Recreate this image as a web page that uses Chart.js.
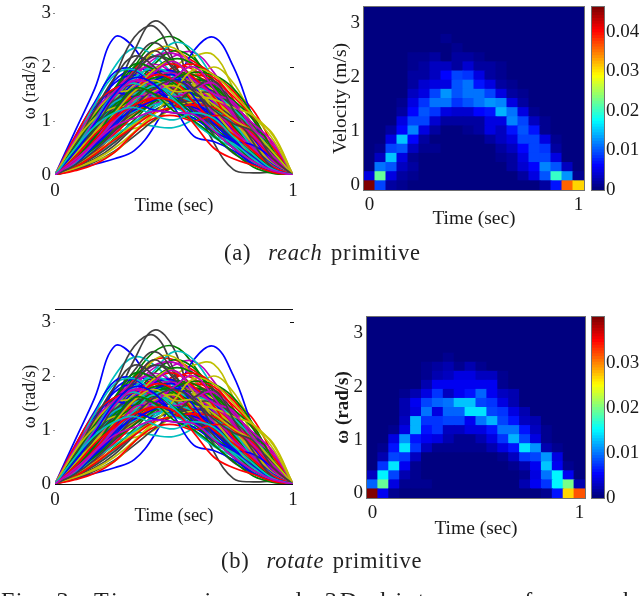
<!DOCTYPE html>
<html><head><meta charset="utf-8">
<script src="https://cdn.jsdelivr.net/npm/chart.js@4"></script>
<style>
html,body{margin:0;padding:0;background:#fff;width:640px;height:596px;overflow:hidden}
canvas{position:absolute}
.cap{position:absolute;font-family:"Liberation Serif",serif;color:#222;white-space:pre;line-height:1}
#wrap{position:absolute;left:0;top:0;width:640px;height:596px;overflow:hidden;filter:blur(0.45px)}
</style></head><body><div id="wrap">
<canvas id="lineA" style="left:0;top:0;width:310px;height:225px"></canvas>
<canvas id="heatA" style="left:320px;top:0;width:270px;height:235px"></canvas>
<canvas id="barA" style="left:586px;top:0;width:54px;height:235px"></canvas>
<canvas id="lineB" style="left:0;top:300px;width:310px;height:235px"></canvas>
<canvas id="heatB" style="left:320px;top:310px;width:270px;height:235px"></canvas>
<canvas id="barB" style="left:586px;top:310px;width:54px;height:235px"></canvas>
<div class="cap" style="left:224px;top:242px;font-size:22.5px;letter-spacing:.8px;word-spacing:2px">(a)  <i>reach</i> primitive</div>
<div class="cap" style="left:221px;top:550px;font-size:22.5px;letter-spacing:.8px;word-spacing:2px">(b)  <i>rotate</i> primitive</div>
<div class="cap" style="left:1px;top:588px;font-size:24px;letter-spacing:1.5px;word-spacing:4px">Fig. 3:</div>
<div class="cap" style="left:94px;top:588px;font-size:24px;letter-spacing:3.1px;word-spacing:11px">Time-series and 3D histogram for each</div>
</div>
<script>
const times=[0,.083,.167,.25,.333,.417,.5,.583,.667,.75,.833,.917,1];
const lineColors=['#0000ff','#008000','#ff0000','#00bfbf','#bf00bf','#bfbf00','#404040'];
const curves=[
[0,.8,1.6,2.55,2.35,1.7,1.3,1.12,1.05,.8,.5,.2,0],
[0,.35,.85,1.4,2.0,2.45,2.55,2.2,1.6,1.0,.5,.15,0],
[0,.3,.8,1.35,1.95,2.3,2.3,2.1,1.85,1.55,1.2,.55,0],
[0,.6,1.3,2.0,2.35,2.2,1.85,1.5,1.1,.75,.35,.1,0],
[0,.25,.65,1.1,1.6,1.95,2.2,2.27,1.9,1.3,.7,.25,0],
[0,.3,.6,.95,1.3,1.7,2.0,2.2,2.22,1.6,.9,.35,0],
[0,.3,.8,1.5,2.3,2.85,2.5,1.4,.6,.1,.04,.05,0],
[0,.1,.2,.3,.45,.9,1.6,2.3,2.55,2.0,1.05,.3,0],
[0,.45,1.0,1.55,2.0,2.2,2.1,1.8,1.4,1.0,.6,.2,0],
[0,.5,1.1,1.6,1.85,1.95,1.9,1.85,1.65,1.3,.85,.4,0],
[0,.32,.6,.85,.96,.9,.88,1.05,1.5,1.2,.7,.2,0],
[0,.4,.9,1.4,1.8,2.15,2.25,2.05,1.6,1.1,.6,.2,0],
[0,.28,.55,.8,.86,1.0,1.3,1.7,2.0,1.7,1.1,.75,0],
[0,.4,1.0,1.8,2.55,2.75,2.1,1.2,.75,.4,.2,.06,0],
[0,.55,1.15,1.75,1.95,1.9,1.55,1.15,.8,.65,.4,.15,0],
[0,.3,.75,1.2,1.65,2.05,2.3,2.15,1.7,1.2,.7,.25,0],
[0,.2,.5,.85,1.25,1.65,2.0,1.95,1.65,1.25,.8,.3,0],
[0,.35,.85,1.3,1.75,2.1,2.45,2.3,1.75,1.0,.45,.15,0],
[0,.45,1.0,1.5,1.9,2.2,2.25,1.95,1.4,.9,.45,.15,0],
[0,.35,.85,1.35,1.8,2.3,2.35,1.95,1.25,.7,.3,.1,0],
[0,.4,.95,1.55,2.1,2.45,2.05,1.35,.9,.55,.25,.08,0],
[0,.5,1.05,1.5,1.7,1.75,1.6,1.25,.85,.62,.35,.12,0],
[0,.25,.6,1.0,1.5,1.95,2.15,2.05,1.75,1.25,.75,.25,0],
[0,.2,.5,.85,1.2,1.6,1.95,2.05,1.85,1.55,1.05,.5,0],
[0,.38,.85,1.3,1.65,1.85,1.9,1.7,1.35,.95,.55,.18,0],
[0,.42,.95,1.5,1.85,2.05,1.85,1.45,1.05,.65,.3,.1,0],
[0,.22,.55,.95,1.4,1.75,1.85,1.8,1.55,1.2,.8,.35,0],
[0,.3,.75,1.3,1.85,2.2,2.0,1.6,1.2,.85,.5,.15,0],
[0,.6,1.2,1.7,1.85,1.7,1.45,1.2,1.0,.7,.4,.12,0],
[0,.35,.8,1.25,1.6,1.8,1.75,1.55,1.35,1.0,.6,.2,0],
[0,.18,.45,.8,1.2,1.45,1.7,1.85,1.75,1.45,1.05,.4,0],
[0,.3,.65,1.05,1.35,1.45,1.5,1.55,1.35,1.05,.6,.2,0],
[0,.5,1.05,1.55,1.9,2.0,1.75,1.35,1.0,.6,.28,.08,0],
[0,.25,.55,.9,1.2,1.42,1.6,1.68,1.6,1.25,.8,.3,0],
[0,.3,.7,1.1,1.5,1.8,1.85,1.6,1.2,.8,.4,.12,0],
[0,.65,1.25,1.6,1.72,1.6,1.35,1.15,.95,.7,.35,.1,0],
[0,.25,.65,1.1,1.5,1.75,1.9,1.85,1.6,1.2,.7,.22,0],
[0,.35,.8,1.2,1.45,1.6,1.5,1.35,1.1,.75,.4,.12,0],
[0,.15,.35,.62,.95,1.25,1.4,1.4,1.25,1.0,.65,.25,0],
[0,.28,.65,1.05,1.4,1.55,1.65,1.55,1.3,.95,.52,.16,0],
[0,.45,.95,1.4,1.65,1.68,1.55,1.55,1.45,1.05,.65,.25,0],
[0,.2,.5,.85,1.15,1.4,1.6,1.75,1.7,1.35,.85,.3,0],
[0,.4,.9,1.35,1.7,1.9,1.7,1.4,1.1,.8,.5,.18,0],
[0,.33,.72,1.1,1.32,1.4,1.28,1.05,.85,.62,.32,.1,0],
[0,.25,.55,.88,1.2,1.45,1.72,1.9,1.8,1.4,.8,.28,0],
[0,.3,.7,1.1,1.4,1.72,1.8,1.72,1.45,1.0,.55,.18,0],
[0,.48,1.0,1.45,1.75,1.75,1.5,1.25,1.0,.72,.4,.13,0],
[0,.22,.5,.82,1.12,1.3,1.45,1.48,1.4,1.05,.6,.2,0],
[0,.14,.3,.55,.9,1.3,1.55,1.62,1.55,1.25,.75,.28,0],
[0,.38,.82,1.28,1.62,1.88,1.92,1.62,1.22,.82,.42,.14,0],
[0,.28,.62,.95,1.25,1.48,1.7,1.78,1.65,1.38,1.02,.38,0],
[0,.35,.72,1.08,1.35,1.55,1.52,1.38,1.15,.85,.5,.16,0],
[0,.42,.92,1.42,1.8,1.98,1.82,1.5,1.08,.7,.38,.12,0],
[0,.2,.48,.78,1.1,1.32,1.35,1.35,1.3,1.0,.65,.22,0],
[0,.24,.55,.9,1.25,1.55,1.75,1.72,1.48,1.08,.62,.2,0],
[0,.52,1.02,1.38,1.58,1.62,1.45,1.2,.95,.68,.34,.11,0],
[0,.3,.68,1.08,1.45,1.7,1.78,1.62,1.32,.92,.52,.17,0],
[0,.16,.38,.68,1.02,1.38,1.62,1.72,1.62,1.28,.82,.32,0],
[0,.36,.78,1.18,1.52,1.72,1.62,1.42,1.18,.88,.56,.2,0],
[0,.26,.58,.92,1.18,1.3,1.38,1.42,1.25,.92,.55,.18,0],
[0,.32,.76,1.22,1.62,1.85,1.88,1.7,1.35,.95,.56,.2,0],
[0,.12,.28,.5,.8,1.15,1.4,1.45,1.4,1.12,.72,.28,0],
[0,.4,.85,1.25,1.5,1.62,1.55,1.62,1.5,1.15,.72,.25,0],
[0,.22,.52,.9,1.28,1.6,1.8,1.78,1.5,1.1,.68,.24,0],
[0,.34,.74,1.12,1.42,1.52,1.45,1.3,1.05,.78,.45,.15,0],
[0,.18,.42,.75,1.1,1.42,1.58,1.55,1.42,1.12,.78,.3,0],
[0,.46,.94,1.3,1.5,1.68,1.72,1.5,1.15,.78,.42,.15,0],
[0,.26,.62,1.0,1.38,1.58,1.62,1.55,1.42,1.15,.72,.25,0],
[0,.38,.8,1.18,1.4,1.55,1.68,1.65,1.4,1.0,.58,.2,0],
[0,.14,.34,.6,.92,1.2,1.35,1.5,1.52,1.3,.92,.38,0],
[0,.3,.64,.98,1.2,1.38,1.42,1.32,1.12,.82,.5,.18,0],
[0,.22,.5,.82,1.1,1.35,1.52,1.5,1.25,.9,.5,.16,0],
[0,.28,.66,1.1,1.5,1.62,1.5,1.28,1.02,.72,.4,.14,0],
[0,.2,.46,.72,.98,1.25,1.45,1.6,1.5,1.22,.85,.42,0],
[0,.34,.7,1.02,1.28,1.48,1.55,1.45,1.2,.85,.48,.16,0],
[0,.18,.4,.66,.94,1.15,1.28,1.35,1.3,1.05,.72,.34,0],
[0,.1,.24,.44,.72,1.02,1.28,1.38,1.3,1.05,.68,.42,0],
[0,.7,1.35,1.9,1.95,1.6,1.35,1.25,1.1,.7,.3,.08,0],
[0,.55,1.1,1.6,2.05,1.95,1.7,1.5,1.2,.7,.4,.12,0],
[0,.7,1.3,1.6,1.7,1.95,2.05,1.8,1.45,.85,.45,.15,0],
[0,.62,1.3,1.85,1.95,1.7,1.5,1.35,1.2,.95,.5,.16,0],
[0,.65,1.2,1.55,1.75,1.6,1.75,1.6,1.15,.8,.5,.15,0],
[0,.6,1.15,1.5,1.6,1.95,2.1,1.7,1.2,.75,.3,.08,0],
[0,.55,1.2,1.8,2.2,2.0,1.55,1.2,.9,.5,.25,.06,0],
[0,.4,.95,1.5,1.45,1.5,1.75,1.55,1.05,.62,.32,.1,0],
[0,.5,.95,1.3,1.55,1.8,1.65,1.35,1.0,.6,.25,.07,0],
[0,.14,.38,.65,.9,1.15,1.25,1.3,1.25,1.0,.7,.3,0],
[0,.48,1.0,1.35,1.5,1.75,1.45,1.0,.7,.5,.22,.06,0],
[0,.3,.75,1.2,1.55,1.9,2.1,1.75,1.5,1.35,.85,.55,0],
[0,.6,1.05,1.25,1.3,1.55,1.65,1.45,1.4,1.25,1.1,.72,0],
[0,.35,.85,1.45,1.9,2.3,1.95,1.6,1.05,.55,.25,.1,0],
[0,.28,.72,1.15,1.6,1.75,1.85,1.45,.95,.65,.55,.3,0],
[0,.2,.55,1.0,1.45,1.7,1.8,1.9,1.85,1.6,1.1,.45,0],
[0,.25,.62,1.1,1.55,1.85,1.75,1.35,1.0,.75,.45,.15,0],
[0,.42,1.0,1.5,1.7,1.45,1.25,1.1,.85,.55,.22,.05,0],
[0,.45,.98,1.45,1.75,1.65,1.45,1.6,1.7,1.3,.95,.6,0],
[0,.12,.26,.42,.78,1.12,1.55,1.95,1.85,1.5,1.1,.65,0],
[0,.28,.7,1.2,1.55,1.5,1.35,1.6,1.75,1.2,.6,.12,0],
[0,.2,.55,.95,1.3,1.2,1.15,1.05,.8,.62,.32,.1,0],
[0,.45,.88,1.2,1.42,1.62,1.42,1.12,.8,.5,.2,.05,0],
[0,.08,.2,.42,.78,1.05,1.1,1.0,1.1,1.05,.75,.3,0],
[0,.22,.6,1.0,1.35,1.65,1.4,.98,.72,.58,.3,.06,0],
[0,.24,.6,1.0,1.42,1.52,1.8,2.0,1.6,1.1,.72,.35,0],
[0,.38,.78,1.15,1.55,1.75,1.55,1.55,1.3,1.02,.8,.42,0],
[0,.18,.45,.82,1.25,1.6,1.75,1.55,1.2,.95,.8,.3,0],
[0,.42,.95,1.5,1.8,1.68,1.25,.72,.62,.45,.2,.05,0],
[0,.3,.7,1.2,1.6,1.5,1.18,1.0,.72,.42,.15,.03,0],
[0,.32,.75,1.05,1.3,1.42,1.35,.95,.5,.3,.18,.05,0],
[0,.48,.9,1.15,1.25,1.1,1.02,1.15,1.05,.7,.38,.1,0],
[0,.28,.6,.9,1.05,1.18,1.15,1.12,.82,.5,.25,.08,0]
];
const heatReach=[
[46,9,2,1,.6,.4,.3,.3,.2,.2,.2,.2,.3,.3,.4,.6,2,7,36,31],
[5,22,5,2,.8,.4,.3,.2,.2,.1,.1,.2,.2,.4,2,5,10,20,13,1],
[.2,11,10,3,2,.5,.2,.1,.1,.1,.1,.1,.2,2,4,6,12,10,3,.2],
[0,3,15,5,1,.5,.3,.1,.1,.1,.1,.3,1,2,5,9,9,5,.6,0],
[0,1,9,10,3,.8,.8,.3,.1,.1,.1,.4,2,3,6,9,8,2,.3,0],
[0,.2,5,15,6,2,.4,.2,.1,.1,.3,2,3,5,9,9,5,1,0,0],
[0,0,2,6,12,5,2,.5,.4,1,2,5,3,7,10,7,1,.5,0,0],
[0,0,.4,5,9,9,4,2,2,2,2,5,5,12,9,3,1,.2,0,0],
[0,0,0,2,6,10,8,5,4,4,6,7,14,11,5,1,.5,0,0,0],
[0,0,0,1,5,8,11,11,8,10,11,13,12,5,2,.3,0,0,0,0],
[0,0,0,.3,3,5,9,13,10,11,11,9,5,2,.8,.2,0,0,0,0],
[0,0,0,.1,2,4,5,5,10,11,7,5,2,1,.3,0,0,0,0,0],
[0,0,0,0,1.5,2,3,6,9,8,5,2,1.2,.3,0,0,0,0,0,0],
[0,0,0,0,1,2,3,3,2,4,2,2,1,.2,0,0,0,0,0,0],
[0,0,0,0,.8,1,1.5,.7,2,2,1.2,.5,.1,0,0,0,0,0,0,0],
[0,0,0,0,0,0,.3,.6,.8,.3,.1,0,0,0,0,0,0,0,0,0],
[0,0,0,0,0,0,0,.8,.2,0,0,0,0,0,0,0,0,0,0,0],
[0,0,0,0,0,0,0,0,0,0,0,0,0,0,0,0,0,0,0,0],
[0,0,0,0,0,0,0,0,0,0,0,0,0,0,0,0,0,0,0,0],
[0,0,0,0,0,0,0,0,0,0,0,0,0,0,0,0,0,0,0,0]
];
const heatRotate=[
[40,5,1,.6,.6,.3,.2,.2,.1,.1,.1,.1,.2,.2,.4,.6,.8,6,27,32],
[9,19,4,1,1,1,.3,.2,.1,.1,.1,.1,.2,.3,2,5,7,15,20,2],
[3,15,8,2,.8,.3,.2,.1,.1,.1,.1,.1,.2,.4,1,4,10,15,5,.3],
[.2,7,14,5,1.2,.4,.2,.1,.1,.1,.1,.2,.4,1,2,5,13,5,1,0],
[0,2,8,7,3,.6,.3,.2,.2,.2,.2,.3,1,3,7,8,11,4,.6,0],
[0,.8,6,14,7,3,1,1,1,1,1,2,4,6,14,11,2,1,.1,0],
[0,.1,4,11,6,5,4,2,1,1,2,4,7,12,8,4,1,.1,0,0],
[0,0,1.2,4,12,6,7,3,3,4,4,6,10,10,6,3,1,0,0,0],
[0,0,.2,3,12,7,7,8,8,5,10,12,8,6,3,2,.1,0,0,0],
[0,0,0,2,4,10,4,9,9,14,14,8,7,4,2,.2,0,0,0,0],
[0,0,0,2,5,8,9,10,13,13,8,7,4,2,.6,.1,0,0,0,0],
[0,0,0,1,2,4,7,3,5,6,9,5,3,2,.1,0,0,0,0,0],
[0,0,0,.1,.5,2,5,5,5,5,5,5,1,.2,0,0,0,0,0,0],
[0,0,0,0,.1,.8,2,3,4,4,3,3,1,.1,0,0,0,0,0,0],
[0,0,0,0,0,1,1.5,2,1,2,1,.5,.1,0,0,0,0,0,0,0],
[0,0,0,0,0,0,.3,.8,.4,.6,.2,.1,.6,0,0,0,0,0,0,0],
[0,0,0,0,0,0,0,.1,.6,.1,0,0,0,0,0,0,0,0,0,0],
[0,0,0,0,0,0,0,.6,.6,0,0,0,0,0,0,0,0,0,0,0],
[0,0,0,0,0,0,0,0,0,0,0,0,0,0,0,0,0,0,0,0],
[0,0,0,0,0,0,0,0,0,0,0,0,0,0,0,0,0,0,0,0]
];
const heatTimeLabels=['0','','','','','','','','','','','','','','','','','','','1'];
const yTicks=[0,1,2,3];
const barTicksA=[0,.01,.02,.03,.04];
const barTicksB=[0,.01,.02,.03];
const vmaxA=.0463, vmaxB=.0402;
const ROW=.1695, LEVELS=64;

Chart.defaults.animation=false;
Chart.defaults.font.family='"Liberation Serif",serif';
Chart.defaults.color='#1a1a1a';
const clamp=v=>Math.max(0,Math.min(1,v));
const noPad=s=>{s.paddingTop=s.paddingBottom=s.paddingLeft=s.paddingRight=0};
function jet(t){
  t=Math.min(LEVELS-1,Math.floor(clamp(t)*LEVELS))/(LEVELS-1);
  const c=k=>Math.round(255*clamp(1.5-Math.abs(4*t-k)));
  return `rgb(${c(3)},${c(2)},${c(1)})`;
}
const frame={id:'frame',afterDatasetsDraw(ch){
  const a=ch.chartArea,g=ch.ctx;g.save();g.strokeStyle='#707070';g.lineWidth=1;
  g.strokeRect(Math.round(a.left)-.5,Math.round(a.top)-.5,Math.round(a.right-a.left)+1,Math.round(a.bottom-a.top)+1);g.restore();
}};
const edge={id:'edge',afterDatasetsDraw(ch,_,o){
  const a=ch.chartArea,g=ch.ctx,y=ch.scales.y;g.save();g.strokeStyle='#111';g.lineWidth=1;g.beginPath();
  (o.marks||[]).forEach(v=>{const p=Math.round(y.getPixelForValue(v))+.5;g.moveTo(a.right-3,p);g.lineTo(a.right+1,p);});
  if(o.box){const t=Math.round(a.top)+.5,b=Math.round(a.bottom)+.5;g.moveTo(a.left,t);g.lineTo(a.right,t);g.moveTo(a.left,b);g.lineTo(a.right,b);}
  g.stroke();
  g.strokeStyle='#888';g.beginPath();
  (o.left||[]).forEach(v=>{const p=Math.round(y.getPixelForValue(v))+.5;g.moveTo(a.left-2,p);g.lineTo(a.left,p);});
  g.stroke();g.restore();
}};
function lineChart(id,opt){
  new Chart(document.getElementById(id),{type:'line',
    data:{datasets:curves.map((c,i)=>({data:c.map((v,j)=>({x:times[j],y:v})),borderColor:lineColors[i%7],
      borderWidth:1.7,pointRadius:0,tension:.4,order:-i}))},
    options:{responsive:false,layout:{padding:{top:opt.top,right:17}},
      plugins:{legend:{display:false},tooltip:{enabled:false},edge:{marks:opt.marks,box:opt.box,left:[1,2,3]}},
      scales:{
        x:{type:'linear',min:0,max:1,grid:{display:false},border:{display:false},
          afterFit:s=>{s.height=opt.xh;noPad(s)},
          afterBuildTicks:s=>{s.ticks=[{value:0},{value:1}]},
          ticks:{font:{size:19},padding:-3,maxRotation:0,callback:v=>String(v)},
          title:{display:true,text:'Time (sec)',font:{size:18.5},padding:{top:0,bottom:8}}},
        y:{min:0,max:3.24,grid:{display:false,drawTicks:false},border:{display:false},
          afterFit:s=>{s.width=55;noPad(s)},
          afterBuildTicks:s=>{s.ticks=yTicks.map(v=>({value:v}))},
          ticks:{font:{size:19},padding:4,callback:v=>String(v)},
          title:{display:true,text:'ω (rad/s)',font:{size:18},padding:{top:19,bottom:0}}}
      }},plugins:[edge]});
}
function heatChart(id,rows,vmax,yTitle,opt){
  new Chart(document.getElementById(id),{type:'bar',
    data:{labels:heatTimeLabels,datasets:rows.map((r,i)=>({
      data:r.map(()=>[i*ROW-ROW/2,(i+1)*ROW-ROW/2]),
      backgroundColor:r.map(v=>jet(v/1000/vmax)),borderWidth:0,inflateAmount:.5,
      barPercentage:1,categoryPercentage:1,grouped:false}))},
    options:{responsive:false,layout:{padding:{top:7,right:opt.right}},
      plugins:{legend:{display:false},tooltip:{enabled:false}},
      scales:{
        x:{grid:{display:false,drawTicks:false},border:{display:false},
          afterFit:s=>{s.height=opt.xh;noPad(s)},
          ticks:{font:{size:19},padding:4,autoSkip:false,maxRotation:0},
          title:{display:true,text:'Time (sec)',font:{size:19.5},padding:{top:0,bottom:4}}},
        y:{min:-ROW/2,max:ROW*19.5,grid:{display:false,drawTicks:false},border:{display:false},
          afterFit:s=>{s.width=opt.yw;noPad(s)},
          afterBuildTicks:s=>{s.ticks=yTicks.map(v=>({value:v}))},
          ticks:{font:{size:19},padding:4,callback:v=>String(v)},
          title:{display:true,text:yTitle,font:{size:opt.ts,weight:opt.tw},padding:{top:opt.tp,bottom:0}}}
      }},plugins:[frame]});
}
function barChart(id,vmax,ticks,xh){
  const lv=Array.from({length:LEVELS},(_,i)=>i);
  new Chart(document.getElementById(id),{type:'bar',
    data:{labels:['c'],datasets:lv.map(i=>({data:[[vmax*i/LEVELS,vmax*(i+1)/LEVELS]],backgroundColor:jet((i+.5)/LEVELS),
      borderWidth:0,inflateAmount:.5,barPercentage:1,categoryPercentage:1,grouped:false}))},
    options:{responsive:false,layout:{padding:{top:7,left:6,bottom:xh}},
      plugins:{legend:{display:false},tooltip:{enabled:false}},
      scales:{
        x:{display:false},
        y:{position:'right',min:0,max:vmax,grid:{display:false,drawTicks:false},border:{display:false},
          afterFit:s=>{s.width=36;noPad(s)},
          afterBuildTicks:s=>{s.ticks=ticks.map(v=>({value:v}))},
          ticks:{font:{size:19},padding:2,callback:v=>v===0?'0':v.toFixed(2)}}
      }},plugins:[frame]});
}
document.querySelectorAll('canvas').forEach(c=>{c.width=parseInt(c.style.width);c.height=parseInt(c.style.height)});
lineChart('lineA',{top:0,xh:50,marks:[1,2],box:false});
lineChart('lineB',{top:9,xh:51,marks:[3],box:true});
heatChart('heatA',heatReach,vmaxA,'Velocity (m/s)',{right:6,xh:45,yw:44,ts:19.5,tw:'normal',tp:9});
heatChart('heatB',heatRotate,vmaxB,'ω (rad/s)',{right:5,xh:47,yw:47,ts:19,tw:'bold',tp:12});
barChart('barA',vmaxA,barTicksA,45);
barChart('barB',vmaxB,barTicksB,47);
</script></body></html>
